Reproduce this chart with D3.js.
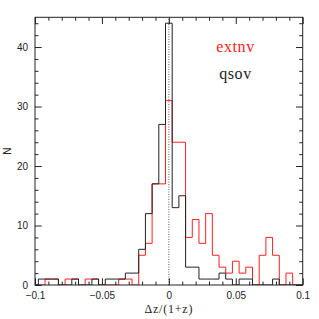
<!DOCTYPE html>
<html>
<head>
<meta charset="utf-8">
<script src="https://cdn.jsdelivr.net/npm/d3@7"></script>
<style>
  html, body { margin: 0; padding: 0; background: #fff; }
  svg { display: block; }
  .tick text { font-family: "Liberation Sans", Arial, sans-serif; font-size: 10px; fill: #222; }
</style>
</head>
<body>
<div id="graph"></div>
<script>
const w = 319;
const h = 319;
const margin = { top: 17.3, right: 16.3, bottom: 34, left: 35 };

// histogram bin centres (width 0.005)
const binCenters = [
  -0.100, -0.095, -0.090, -0.085, -0.080, -0.075, -0.070, -0.065, -0.060, -0.055,
  -0.050, -0.045, -0.040, -0.035, -0.030, -0.025, -0.020, -0.015, -0.010, -0.005,
  0.000, 0.005, 0.010, 0.015, 0.020, 0.025, 0.030, 0.035, 0.040, 0.045,
  0.050, 0.055, 0.060, 0.065, 0.070, 0.075, 0.080, 0.085, 0.090, 0.095, 0.100
];
const binWidth = 0.005;
const qsovCounts = [
  0, 1, 1, 1, 0, 0, 1, 0, 0, 1,
  0, 1, 1, 1, 2, 2, 6, 12, 17, 27,
  44, 13, 15, 3, 3, 1, 1, 1, 2, 1,
  0, 1, 1, 0, 0, 0, 1, 0, 0, 0, 0
];
const extnvCounts = [
  0, 0, 1, 1, 0, 1, 1, 0, 1, 1,
  0, 0, 0, 1, 1, 0, 5, 7, 17, 17,
  31, 24, 24, 8, 11, 7, 12, 5, 3, 2,
  4, 2, 3, 0, 5, 8, 5, 0, 2, 0, 0
];

const xMajor = [-0.1, -0.05, 0, 0.05, 0.1];
const xMajorLabels = ["\u22120.1", "\u22120.05", "0", "0.05", "0.1"];
const xMinor = [-0.09, -0.08, -0.07, -0.06, -0.04, -0.03, -0.02, -0.01, 0.01, 0.02, 0.03, 0.04, 0.06, 0.07, 0.08, 0.09];
const yMajor = [0, 10, 20, 30, 40];
const yMajorLabels = ["0", "10", "20", "30", "40"];
const yMinor = [2, 4, 6, 8, 12, 14, 16, 18, 22, 24, 26, 28, 32, 34, 36, 38, 42, 44];

const svg = d3.select("#graph").append("svg").attr("width", w).attr("height", h);
const iw = w - margin.left - margin.right;
const ih = h - margin.top - margin.bottom;
const g = svg.append("g").attr("transform", `translate(${margin.left},${margin.top})`);

const x = d3.scaleLinear().domain([-0.1, 0.1]).range([0, iw]);
const y = d3.scaleLinear().domain([0, 45]).range([ih, 0]);

g.append("clipPath").attr("id", "clip")
  .append("rect").attr("width", iw).attr("height", ih);

function stepPoints(counts) {
  const pts = [];
  binCenters.forEach((c, i) => pts.push([c - binWidth / 2, counts[i]]));
  const last = binCenters[binCenters.length - 1] + binWidth / 2;
  pts.push([last, counts[counts.length - 1]]);
  return pts;
}

const line = d3.line()
  .x((d) => x(d[0]))
  .y((d) => y(d[1]))
  .curve(d3.curveStepAfter);

const plot = g.append("g").attr("clip-path", "url(#clip)");

plot.append("path")
  .attr("d", line(stepPoints(extnvCounts)))
  .attr("fill", "none")
  .attr("stroke", "#ff2020")
  .attr("stroke-width", 1);

plot.append("path")
  .attr("d", line(stepPoints(qsovCounts)))
  .attr("fill", "none")
  .attr("stroke", "#222")
  .attr("stroke-width", 1);

// dotted zero line
g.append("line")
  .attr("x1", x(0)).attr("x2", x(0))
  .attr("y1", y(0)).attr("y2", 0)
  .attr("stroke", "#333")
  .attr("stroke-width", 0.8)
  .attr("stroke-dasharray", "1,1.5");

// axes: ticks inward on all four sides
function styleAxis(sel) {
  sel.select(".domain").remove();
  sel.selectAll(".tick line").attr("stroke", "#222");
}

g.append("g").attr("transform", `translate(0,${ih})`)
  .call(d3.axisBottom(x).tickValues(xMajor).tickSize(-6.7).tickPadding(6.5)
    .tickFormat((d, i) => xMajorLabels[i]))
  .call(styleAxis);
g.append("g").attr("transform", `translate(0,${ih})`)
  .call(d3.axisBottom(x).tickValues(xMinor).tickSize(-3.4).tickFormat(""))
  .call(styleAxis);
g.append("g")
  .call(d3.axisTop(x).tickValues(xMajor).tickSize(-6.7).tickFormat(""))
  .call(styleAxis);
g.append("g")
  .call(d3.axisTop(x).tickValues(xMinor).tickSize(-3.4).tickFormat(""))
  .call(styleAxis);

g.append("g")
  .call(d3.axisLeft(y).tickValues(yMajor).tickSize(-6.7).tickPadding(7)
    .tickFormat((d, i) => yMajorLabels[i]))
  .call(styleAxis);
g.append("g")
  .call(d3.axisLeft(y).tickValues(yMinor).tickSize(-3.4).tickFormat(""))
  .call(styleAxis);
g.append("g").attr("transform", `translate(${iw},0)`)
  .call(d3.axisRight(y).tickValues(yMajor).tickSize(-6.7).tickFormat(""))
  .call(styleAxis);
g.append("g").attr("transform", `translate(${iw},0)`)
  .call(d3.axisRight(y).tickValues(yMinor).tickSize(-3.4).tickFormat(""))
  .call(styleAxis);

g.append("rect")
  .attr("width", iw).attr("height", ih)
  .attr("fill", "none").attr("stroke", "#222").attr("stroke-width", 1);

// axis titles
svg.append("text")
  .attr("x", margin.left + x(0))
  .attr("y", 313)
  .attr("text-anchor", "middle")
  .attr("font-family", "'Liberation Serif', 'Times New Roman', serif")
  .attr("font-size", 12)
  .attr("letter-spacing", 0.8)
  .attr("fill", "#222")
  .text("\u0394z/(1+z)");

svg.append("text")
  .attr("transform", `translate(11,${margin.top + y(22.5)}) rotate(-90)`)
  .attr("text-anchor", "middle")
  .attr("font-family", "'Liberation Sans', Arial, sans-serif")
  .attr("font-size", 10)
  .attr("fill", "#222")
  .text("N");

// legend labels
svg.append("text")
  .attr("x", 235.5).attr("y", 51.7)
  .attr("text-anchor", "middle")
  .attr("font-family", "'Liberation Serif', 'Times New Roman', serif")
  .attr("font-size", 16)
  .attr("letter-spacing", 0.6)
  .attr("fill", "#ff2020")
  .text("extnv");

svg.append("text")
  .attr("x", 235.5).attr("y", 79)
  .attr("text-anchor", "middle")
  .attr("font-family", "'Liberation Serif', 'Times New Roman', serif")
  .attr("font-size", 16)
  .attr("letter-spacing", 0.6)
  .attr("fill", "#222")
  .text("qsov");
</script>
</body>
</html>
